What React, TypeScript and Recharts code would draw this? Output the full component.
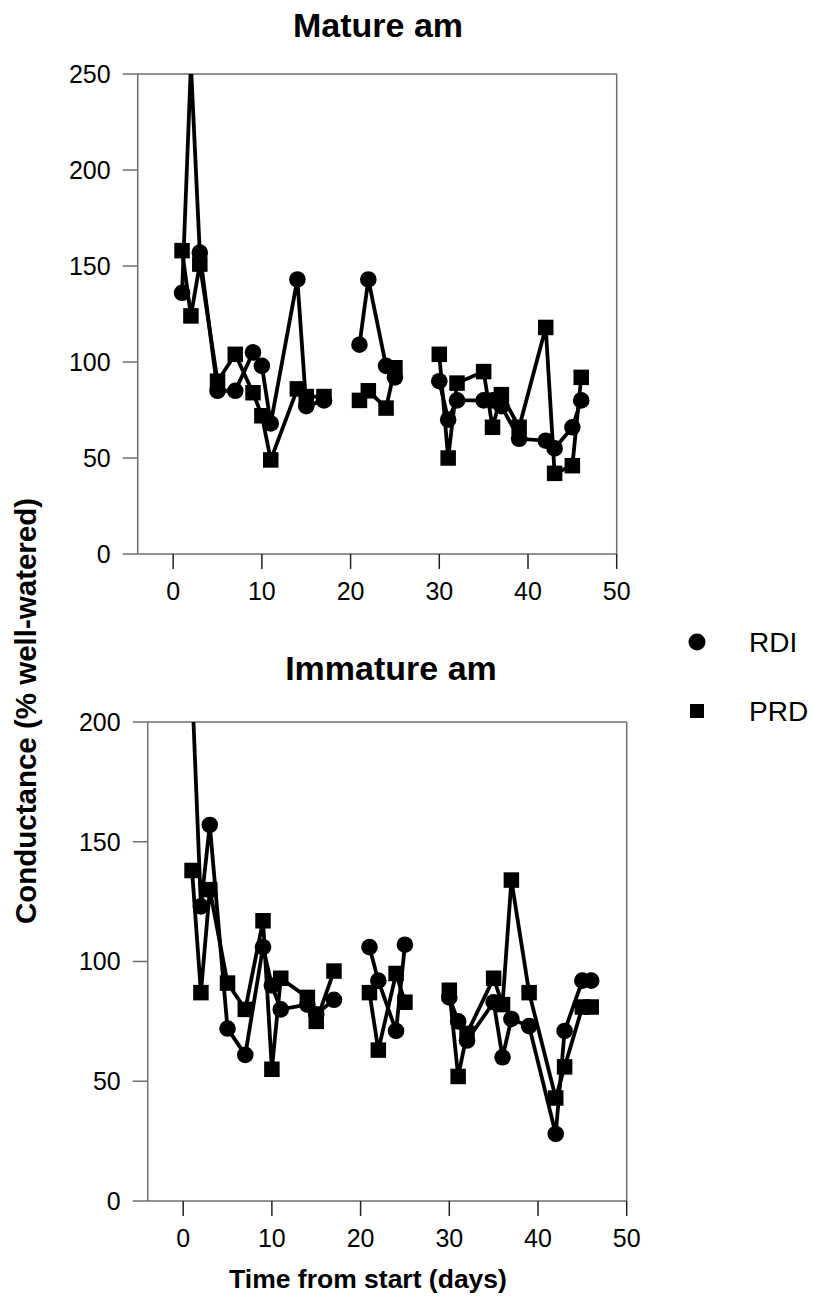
import React from 'react';
import { LineChart, Line, XAxis, YAxis, ReferenceLine } from 'recharts';

// sampling days; 19 and 27 are gap rows (no measurement) so the lines break there
const days = [1, 2, 3, 5, 7, 9, 10, 11, 14, 15, 17, 19, 21, 22, 24, 25, 27, 30, 31, 32, 35, 36, 37, 39, 42, 43, 45, 46];

const matureRdi = [136, 255, 157, 85, 85, 105, 98, 68, 143, 77, 80, null, 109, 143, 98, 92, null, 90, 70, 80, 80, 80, 77, 60, 59, 55, 66, 80];
const maturePrd = [158, 124, 151, 90, 104, 84, 72, 49, 86, 82, 82, null, 80, 85, 76, 97, null, 104, 50, 89, 95, 66, 83, 66, 118, 42, 46, 92];

const immatureRdi = [215, 123, 157, 72, 61, 106, 90, 80, 82, 78, 84, null, 106, 92, 71, 107, null, 85, 75, 67, 83, 60, 76, 73, 28, 71, 92, 92];
const immaturePrd = [138, 87, 130, 91, 80, 117, 55, 93, 85, 75, 96, null, 87, 63, 95, 83, null, 88, 52, 70, 93, 82, 134, 87, 43, 56, 81, 81];

const xTicks = [0, 10, 20, 30, 40, 50];
const matureTicks = [0, 50, 100, 150, 200, 250];
const immatureTicks = [0, 50, 100, 150, 200];

const FONT = '"Liberation Sans", Arial, sans-serif';
const AXIS = '#6e6e6e';

const buildRows = (rdi: (number | null)[], prd: (number | null)[]) =>
  days.map((day, i) => ({ day, rdi: rdi[i], prd: prd[i] }));

const circleDot = (max: number) => (props: any) => {
  const { cx, cy, value, index } = props;
  if (value == null || cx == null || cy == null || value > max) return <g key={`c-${index}`} />;
  return <circle key={`c-${index}`} cx={cx} cy={cy} r={8.3} fill="#000" />;
};

const squareDot = (max: number) => (props: any) => {
  const { cx, cy, value, index } = props;
  if (value == null || cx == null || cy == null || value > max) return <g key={`s-${index}`} />;
  const s = 15.5;
  return <rect key={`s-${index}`} x={cx - s / 2} y={cy - s / 2} width={s} height={s} fill="#000" />;
};

interface PanelProps {
  rows: any[];
  yMax: number;
  yTicks: number[];
  top: number;
  height: number;
  margin: { top: number; right: number; left: number; bottom: number };
}

const Panel: React.FC<PanelProps> = ({ rows, yMax, yTicks, top, height, margin }) => (
  <div style={{ position: 'absolute', left: 0, top }}>
    <LineChart width={660} height={height} data={rows} margin={margin}>
      <XAxis
        dataKey="day"
        type="number"
        domain={[-4, 50]}
        ticks={xTicks}
        height={60}
        tickSize={15}
        tickMargin={13}
        axisLine={{ stroke: AXIS, strokeWidth: 1.5 }}
        tickLine={{ stroke: '#222', strokeWidth: 1.5 }}
        tick={{ fill: '#000', fontSize: 25, fontFamily: FONT }}
      />
      <YAxis
        type="number"
        domain={[0, yMax]}
        ticks={yTicks}
        allowDataOverflow
        width={60}
        tickSize={15}
        tickMargin={12}
        axisLine={{ stroke: AXIS, strokeWidth: 1.5 }}
        tickLine={{ stroke: AXIS, strokeWidth: 1.5 }}
        tick={{ fill: '#000', fontSize: 25, fontFamily: FONT }}
      />
      <ReferenceLine y={yMax} stroke={AXIS} strokeWidth={1.5} />
      <ReferenceLine x={50} stroke={AXIS} strokeWidth={1.5} />
      <Line
        dataKey="rdi"
        type="linear"
        stroke="#000"
        strokeWidth={3.8}
        dot={circleDot(yMax)}
        activeDot={false}
        isAnimationActive={false}
      />
      <Line
        dataKey="prd"
        type="linear"
        stroke="#000"
        strokeWidth={3.8}
        dot={squareDot(yMax)}
        activeDot={false}
        isAnimationActive={false}
      />
    </LineChart>
  </div>
);

export default function App() {
  return (
    <div style={{ position: 'absolute', left: 0, top: 0, width: 813, height: 1301, background: '#fff' }}>
      <Panel
        rows={buildRows(matureRdi, maturePrd)}
        yMax={250}
        yTicks={matureTicks}
        top={0}
        height={640}
        margin={{ top: 74, right: 43.3, left: 77.7, bottom: 26 }}
      />
      <Panel
        rows={buildRows(immatureRdi, immaturePrd)}
        yMax={200}
        yTicks={immatureTicks}
        top={650}
        height={650}
        margin={{ top: 72, right: 33.3, left: 87.7, bottom: 39 }}
      />
      <svg
        width={813}
        height={1301}
        style={{ position: 'absolute', left: 0, top: 0, pointerEvents: 'none' }}
        fontFamily={FONT}
      >
        <text x={378} y={37} textAnchor="middle" fontSize={34} fontWeight="bold">Mature am</text>
        <text x={391} y={680} textAnchor="middle" fontSize={34} fontWeight="bold">Immature am</text>
        <text x={368} y={1288} textAnchor="middle" fontSize={26.5} fontWeight="bold">Time from start (days)</text>
        <text x={36} y={711} textAnchor="middle" fontSize={29.5} fontWeight="bold" transform="rotate(-90 36 711)">
          Conductance (% well-watered)
        </text>
        <circle cx={697} cy={642} r={8.5} fill="#000" />
        <text x={749} y={652} fontSize={28}>RDI</text>
        <rect x={690} y={704} width={14} height={14} fill="#000" />
        <text x={749} y={721} fontSize={28}>PRD</text>
      </svg>
    </div>
  );
}
